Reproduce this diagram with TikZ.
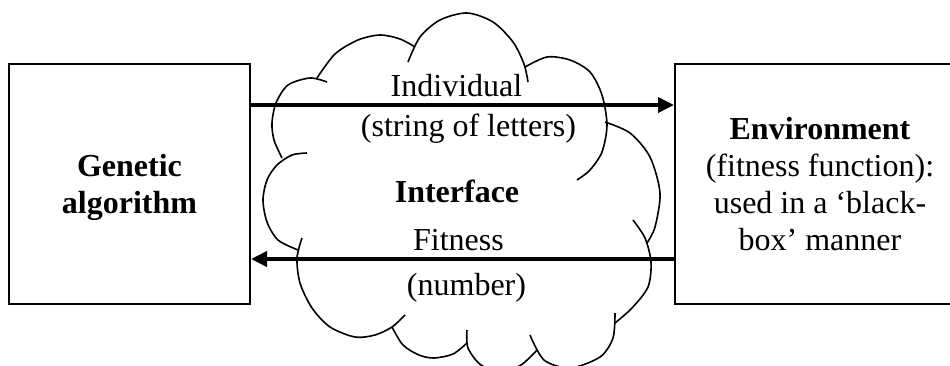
\documentclass[tikz,border=0pt]{standalone}
\usepackage{fontspec}
\setmainfont{Liberation Serif}
\usetikzlibrary{arrows.meta}
\begin{document}
\begin{tikzpicture}[x=0.5pt,y=-0.5pt,
        font=\fontsize{16pt}{18.5pt}\selectfont,
        box/.style={draw,line width=1pt,minimum height=120pt,align=center,text depth=0pt},
        flow/.style={line width=1.8pt,-{Triangle[length=8pt,width=7.5pt]}},
        puff/.style={line width=0.8pt}]
        \useasboundingbox (0,0) rectangle (950,365);
        % the cloud, puff by puff
        \draw[puff] plot[smooth] coordinates {(317,78) (335,54) (358,40) (380,35) (400,39) (415,47)};
        \draw[puff] plot[smooth] coordinates {(408,62) (420,37) (440,20) (467,13) (493,22) (513,42) (524,64) (528,82)};
        \draw[puff] plot[smooth] coordinates {(525,67) (547,57) (570,60) (590,72) (602,95) (607,125) (602,152) (590,170) (577,180)};
        \draw[puff] plot[smooth] coordinates {(605,122) (630,133) (650,157) (660,193) (655,227) (647,243)};
        \draw[puff] plot[smooth] coordinates {(633,220) (645,238) (651,262) (648,287) (632,308) (615,323)};
        \draw[puff] plot[smooth] coordinates {(615,313) (613,338) (600,357) (570,368) (544,360) (530,335)};
        \draw[puff] plot[smooth] coordinates {(467,330) (468,348) (481,365) (501,371) (521,365) (537,350)};
        \draw[puff] plot[smooth] coordinates {(392,327) (403,345) (419,355) (434,358) (453,354) (467,343)};
        \draw[puff] plot[smooth] coordinates {(405,315) (392,327) (375,335) (355,337) (330,327) (312,308) (300,283) (297,258) (302,238)};
        \draw[puff] plot[smooth] coordinates {(298,250) (278,240) (267,222) (263,200) (267,180) (277,165) (292,155) (307,153)};
        \draw[puff] plot[smooth] coordinates {(282,158) (274,140) (272,123) (276,103) (288,85) (310,78) (327,82)};
        \path (129.5,184) node[box,minimum width=120.5pt] (GA) {\textbf{Genetic}\\\textbf{algorithm}}
              (820,184)   node[box,minimum width=145pt] (Env) {\textbf{Environment}\\(fitness function):\\used in a ‘black-\\box’ manner}
              (457,202)   node[anchor=base] (I) {\textbf{Interface}};
        \draw[flow] ([yshift=39.5pt]GA.east) -- node[above,xshift=-3pt] {Individual}
              node[below,xshift=3pt] {(string of letters)} ([yshift=39.5pt]Env.west);
        \draw[flow] ([yshift=-37.5pt]Env.west) -- node[above,xshift=-2pt] {Fitness}
              node[below,xshift=2pt,yshift=-3pt] {(number)} ([yshift=-37.5pt]GA.east);
\end{tikzpicture}
\end{document}
